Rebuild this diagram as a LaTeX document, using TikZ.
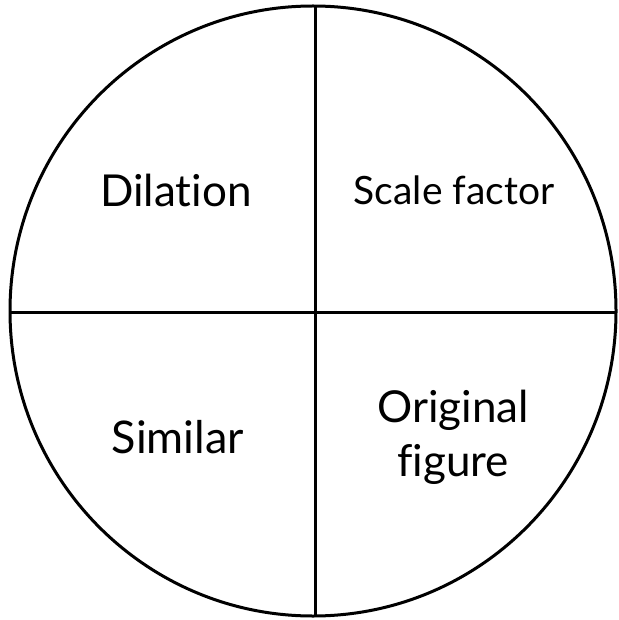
\documentclass[tikz,border=0pt]{standalone}
\usepackage{fontspec}
\setmainfont[Ligatures=NoCommon]{Lato}
\usetikzlibrary{positioning}

\begin{document}
\begin{tikzpicture}[
  x=1pt, y=-1pt,
  rim/.style={line width=3pt},
  label/.style={align=center, inner sep=0pt}
]
\useasboundingbox (0,0) rectangle (618,620);
\coordinate (centre) at (313,311);
\draw[rim] (centre) ellipse [x radius=303, y radius=305];
\coordinate (top) at (315,6);
\coordinate (bottom) at (315,616);
\coordinate (left) at (10,312);
\coordinate (right) at (616,312);
\draw[rim] (top) -- (bottom);
\draw[rim] (left) -- (right);
\node[label, font=\fontsize{44}{50}\selectfont] (dilation) at (176,190) {Dilation};
\node[label, font=\fontsize{39}{44}\selectfont] (scale) at (454,190) {Scale factor};
\node[label, font=\fontsize{45}{50}\selectfont] (similar) at (178,437) {Similar};
\node[label, font=\fontsize{44}{54}\selectfont] (original) at (453,437) {Original\\figure};
\end{tikzpicture}
\end{document}
